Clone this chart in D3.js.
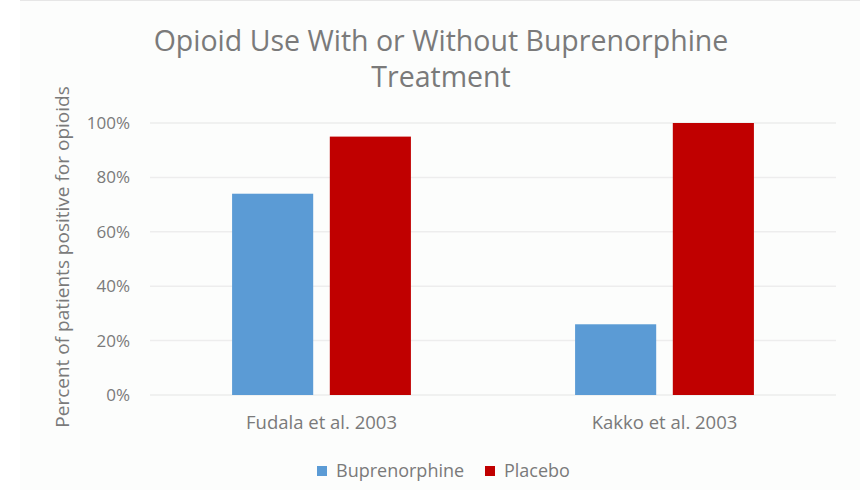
<!DOCTYPE html>
<html>
<head>
<meta charset="utf-8">
<script src="https://cdn.jsdelivr.net/npm/d3@7"></script>
<style>
  html, body { margin: 0; padding: 0; background: #ffffff; }
  svg { display: block; }
  text { font-family: "Open Sans", "Segoe UI", sans-serif; fill: #7a7a7a; }
</style>
</head>
<body>
<svg id="chart" width="860" height="490"></svg>
<script>
// Chart data
const categories = ["Fudala et al. 2003", "Kakko et al. 2003"];
const seriesNames = ["Buprenorphine", "Placebo"];
const buprenorphine = [74, 26];
const placebo = [95, 100];
const yTicks = [0, 20, 40, 60, 80, 100];
const titleLines = ["Opioid Use With or Without Buprenorphine", "Treatment"];
const yAxisTitle = "Percent of patients positive for opioids";
const colors = ["#5b9bd5", "#c00000"];

const seriesValues = [buprenorphine, placebo];
const rows = categories.map((c, i) => ({
  category: c,
  values: seriesNames.map((s, j) => ({ series: s, value: seriesValues[j][i] }))
}));

const svg = d3.select("#chart");
const W = 860, H = 490;
const margin = { top: 123, right: 24, bottom: 95, left: 150 };
const plotW = W - margin.left - margin.right;
const plotH = H - margin.top - margin.bottom;
const labelColor = "#999999";

// chart panel background
svg.append("rect").attr("x", 20).attr("y", 0).attr("width", W - 20).attr("height", H)
  .attr("fill", "#fcfdfc");
svg.append("line").attr("x1", 20).attr("x2", W).attr("y1", 0.5).attr("y2", 0.5)
  .attr("stroke", "#e6e6e6");

const g = svg.append("g").attr("transform", `translate(${margin.left},${margin.top})`);

const x0 = d3.scaleBand().domain(categories).range([0, plotW]).padding(0);
const x1 = d3.scaleBand().domain(seriesNames).range([0, x0.bandwidth()])
  .paddingInner(0.17).paddingOuter(0.84);
const y = d3.scaleLinear().domain([0, 100]).range([plotH, 0]);
const color = d3.scaleOrdinal().domain(seriesNames).range(colors);

// gridlines
g.append("g")
  .selectAll("line")
  .data(yTicks)
  .join("line")
  .attr("x1", 0).attr("x2", plotW)
  .attr("y1", d => y(d)).attr("y2", d => y(d))
  .attr("stroke", "#ededed").attr("stroke-width", 1.5);

// y axis labels
const yAxis = d3.axisLeft(y).tickValues(yTicks).tickFormat(d => d + "%").tickSize(0).tickPadding(20);
const ya = g.append("g").call(yAxis);
ya.select(".domain").remove();
ya.selectAll("text").style("font-size", "17px").attr("fill", labelColor)
  .style("font-family", "'Open Sans', sans-serif");

// bars
const groups = g.selectAll(".grp")
  .data(rows)
  .join("g")
  .attr("class", "grp")
  .attr("transform", d => `translate(${x0(d.category)},0)`);

groups.selectAll("rect")
  .data(d => d.values)
  .join("rect")
  .attr("x", d => x1(d.series))
  .attr("width", x1.bandwidth())
  .attr("y", d => y(d.value))
  .attr("height", d => plotH - y(d.value))
  .attr("fill", d => color(d.series));

// x axis labels
const xAxis = d3.axisBottom(x0).tickSize(0).tickPadding(0);
const xa = g.append("g").attr("transform", `translate(0,${plotH})`).call(xAxis);
xa.select(".domain").remove();
xa.selectAll("text").style("font-size", "18.5px").attr("fill", labelColor)
  .attr("y", 28).attr("dy", "0.35em")
  .style("font-family", "'Open Sans', sans-serif");

// title
svg.append("g").selectAll("text")
  .data(titleLines)
  .join("text")
  .attr("x", 441)
  .attr("y", (d, i) => 51 + i * 36)
  .attr("text-anchor", "middle")
  .style("font-size", "28.5px")
  .attr("fill", "#7a7a7a")
  .text(d => d);

// y axis title
svg.append("text")
  .attr("transform", "translate(62,257) rotate(-90)")
  .attr("text-anchor", "middle")
  .attr("dy", "0.35em")
  .style("font-size", "19px")
  .attr("fill", labelColor)
  .text(yAxisTitle);

// legend
const legend = svg.append("g").attr("transform", "translate(317,471)");
const legendItems = legend.selectAll("g")
  .data(seriesNames)
  .join("g")
  .attr("transform", (d, i) => `translate(${i * 168},0)`);
legendItems.append("rect")
  .attr("x", 0).attr("y", -5).attr("width", 10).attr("height", 10)
  .attr("fill", d => color(d));
legendItems.append("text")
  .attr("x", 19).attr("y", 0).attr("dy", "0.35em")
  .style("font-size", "18px")
  .attr("fill", labelColor)
  .text(d => d);
</script>
</body>
</html>
